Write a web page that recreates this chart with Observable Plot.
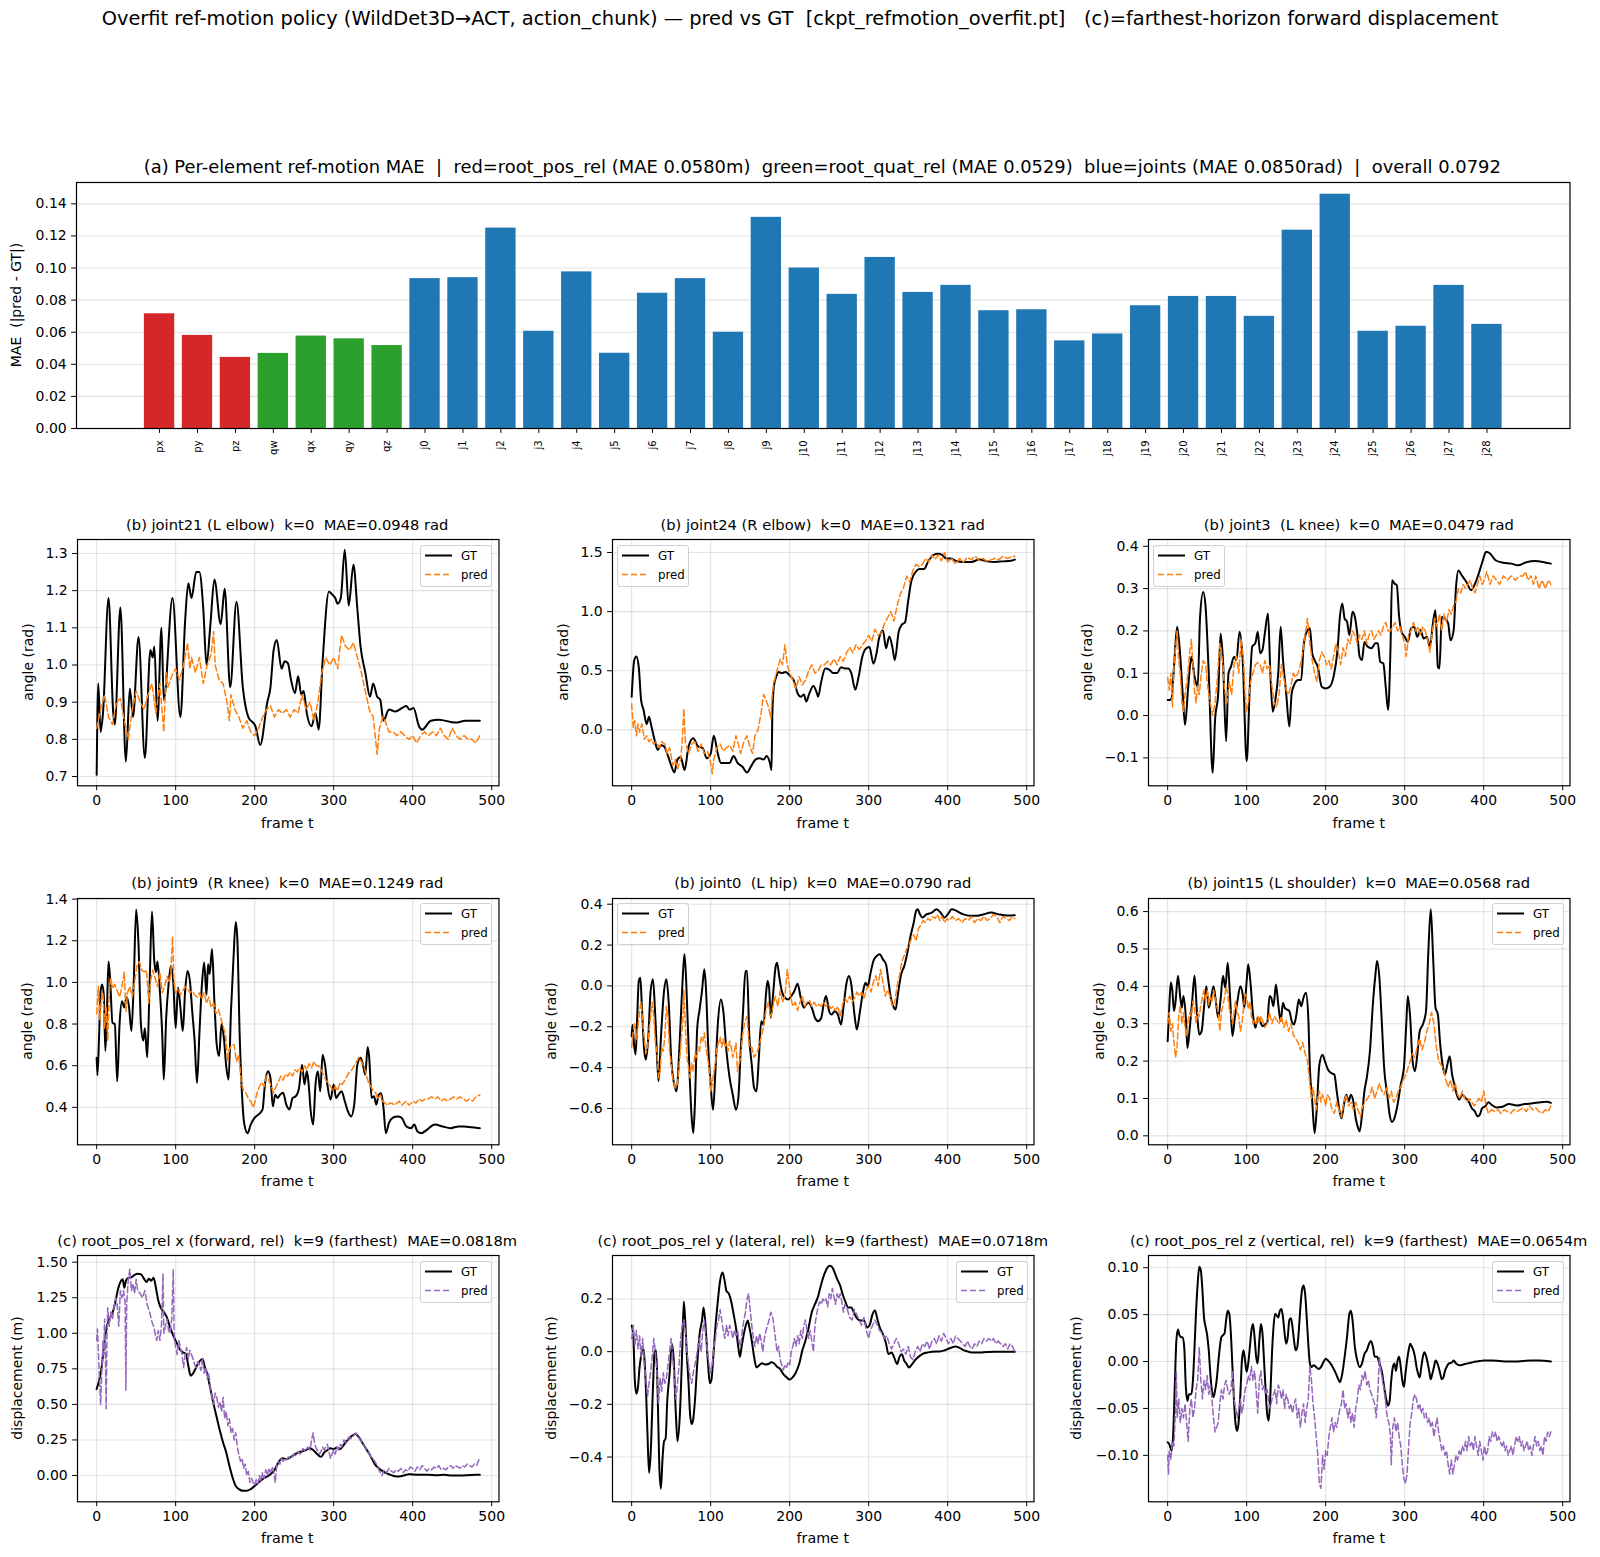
<!DOCTYPE html>
<html><head><meta charset="utf-8">
<script src="https://cdn.jsdelivr.net/npm/d3@7"></script>
<script src="https://cdn.jsdelivr.net/npm/@observablehq/plot@0.6"></script>
<style>
body{margin:0;background:#fff;}
#fig{position:relative;width:1600px;height:1557px;background:#fff;font-family:"DejaVu Sans",sans-serif;color:#000;overflow:hidden}
.t{position:absolute;white-space:pre;transform:translate(-50%,-50%);line-height:1}
.yl{position:absolute;white-space:pre;transform:translate(-50%,-50%) rotate(-90deg);line-height:1}
.lg{position:absolute;background:rgba(255,255,255,0.8);border:1px solid #d0d0d0;border-radius:3px;box-sizing:border-box}
</style></head><body><div id="fig"></div><script>
// ---------------- data ----------------
const suptitle = "Overfit ref-motion policy (WildDet3D\u2192ACT, action_chunk) \u2014 pred vs GT  [ckpt_refmotion_overfit.pt]   (c)=farthest-horizon forward displacement";
const barTitle = "(a) Per-element ref-motion MAE  |  red=root_pos_rel (MAE 0.0580m)  green=root_quat_rel (MAE 0.0529)  blue=joints (MAE 0.0850rad)  |  overall 0.0792";
const barLabels = ["px","py","pz","qw","qx","qy","qz","j0","j1","j2","j3","j4","j5","j6","j7","j8","j9","j10","j11","j12","j13","j14","j15","j16","j17","j18","j19","j20","j21","j22","j23","j24","j25","j26","j27","j28"];
const barValues = [0.0715,0.058,0.0443,0.0468,0.0576,0.0559,0.0517,0.0934,0.094,0.1249,0.0606,0.0976,0.0469,0.0843,0.0934,0.060,0.1316,0.100,0.0836,0.1066,0.0848,0.0892,0.0734,0.074,0.0546,0.0589,0.0765,0.0823,0.0823,0.0699,0.1236,0.146,0.0606,0.0637,0.0892,0.0649];
const barGroups = ["pos","pos","pos","quat","quat","quat","quat"].concat(Array(29).fill("joint"));
const barColors = {pos:"#d62728", quat:"#2ca02c", joint:"#1f77b4"};
const barYTicks = [0,0.02,0.04,0.06,0.08,0.10,0.12,0.14];
const frameTicks = [0,100,200,300,400,500];

const j21_gt = [0,.705,2,.95,5,.82,8,.87,15,1.18,21,.87,23,.84,30,1.155,37,.74,42,.937,46,.86,53,1.075,61,.75,68,1.04,71,1.02,73,1.05,77,.85,82,1.10,85,.906,96,1.18,106,.86,112,1.12,116,1.22,120,1.18,126,1.25,130,1.25,135,1.15,139,1.0,144,1.11,149,1.23,157,1.11,162,1.205,169,.94,177,1.17,185,.94,192,.86,201,.835,207,.785,216,.90,220,.94,224,1.04,228,1.067,234,.99,238,1.01,242,1.005,246,.96,251,.924,255,.97,259,.92,262,.93,266,.87,272,.835,277,.87,281,.826,286,1.01,294,1.197,298,1.19,302,1.18,305,1.165,309,1.18,314,1.31,319,1.16,325,1.27,330,1.15,334,1.05,340,.98,346,.915,350,.95,355,.915,359,.906,363,.85,370,.88,378,.875,387,.885,392,.89,396,.88,401,.884,408,.835,412,.826,423,.85,433,.853,454,.845,467,.85,485,.85];
const j21_pred = [0,.83,5,.88,10,.92,15,.86,20,.84,25,.90,30,.91,35,.85,40,.80,45,.88,50,.93,55,.90,60,.88,65,.92,70,.95,75,.87,80,.95,85,.82,88,.98,90,.94,95,.97,100,.99,105,.96,110,1.0,115,1.06,118,.99,120,1.02,125,.98,130,1.02,135,.95,140,1.0,145,1.03,148,1.09,150,1.0,155,.96,160,.95,165,.90,168,.85,170,.92,175,.88,180,.86,185,.83,190,.85,195,.82,200,.81,205,.83,210,.86,215,.88,220,.89,225,.86,230,.88,235,.87,240,.88,245,.86,250,.88,255,.87,260,.92,265,.88,270,.90,275,.85,280,.90,285,.98,290,1.02,295,1.0,300,1.02,305,.99,310,1.08,315,1.05,320,1.04,325,1.06,330,1.02,335,.98,340,.93,345,.88,350,.86,355,.76,358,.83,362,.86,365,.85,370,.82,375,.82,380,.81,385,.82,390,.81,395,.80,400,.81,405,.79,410,.81,415,.82,420,.81,425,.82,430,.81,435,.83,440,.81,445,.80,450,.83,455,.81,460,.80,465,.81,470,.80,475,.80,480,.79,485,.81];

const j24_gt = [0,.28,2,.51,3,.58,6,.62,9,.53,12,.25,15,.17,19,.05,22,.11,25,.03,29,-.085,33,-.17,37,-.13,41,-.14,46,-.22,50,-.30,54,-.36,58,-.25,62,-.23,67,-.34,72,-.14,78,-.07,84,-.14,90,-.155,95,-.24,100,-.2,104,-.05,109,-.2,113,-.28,118,-.28,124,-.28,129,-.22,134,-.28,140,-.31,146,-.36,151,-.31,157,-.25,162,-.24,167,-.25,171,-.22,175,-.28,177,-.34,178,.11,180,.37,183,.45,186,.49,190,.48,195,.49,200,.46,205,.42,210,.31,214,.28,218,.30,221,.24,225,.31,230,.37,234,.32,236,.28,240,.41,245,.52,250,.51,255,.48,260,.48,265,.53,270,.52,274,.52,278,.48,283,.34,287,.44,292,.62,297,.69,301,.70,306,.56,310,.65,313,.77,318,.84,322,.69,326,.79,330,.70,333,.59,338,.83,342,.89,346,.91,350,1.09,354,1.26,360,1.34,364,1.36,370,1.36,375,1.42,382,1.48,388,1.49,393,1.48,398,1.45,404,1.45,410,1.43,420,1.42,430,1.42,440,1.44,450,1.425,460,1.42,470,1.425,480,1.43,485,1.44];
const j24_pred = [0,.22,2,.02,4,.08,6,-.05,8,.05,10,-.02,13,.05,16,-.08,19,-.05,22,-.1,25,-.08,28,-.12,31,-.1,35,-.15,38,-.1,42,-.12,45,-.2,48,-.15,52,-.3,55,-.25,58,-.33,62,-.25,64,-.1,66,.18,68,-.1,72,-.2,76,-.12,80,-.1,84,-.18,88,-.12,92,-.2,96,-.18,100,-.28,102,-.37,104,-.25,108,-.15,112,-.12,116,-.18,120,-.15,124,-.13,128,-.18,132,-.05,135,-.12,138,-.2,142,-.1,146,-.05,150,-.15,153,-.2,156,-.05,160,0,164,.15,167,.3,170,.25,173,.2,176,.1,178,.3,180,.4,184,.5,188,.6,191,.55,194,.72,197,.55,200,.48,204,.42,208,.35,212,.45,216,.38,220,.42,224,.5,228,.55,232,.48,236,.5,240,.55,244,.55,248,.58,252,.55,256,.6,260,.55,264,.62,268,.58,272,.65,276,.7,280,.65,284,.72,288,.68,292,.72,296,.75,300,.8,304,.75,308,.85,312,.8,316,.82,320,.9,324,.95,328,1.0,332,.92,336,1.05,340,1.15,344,1.2,348,1.3,352,1.25,356,1.35,360,1.4,364,1.38,368,1.4,372,1.45,376,1.42,380,1.48,384,1.44,388,1.48,392,1.43,396,1.5,400,1.42,405,1.45,410,1.40,415,1.45,420,1.42,425,1.46,430,1.44,435,1.47,440,1.43,445,1.45,450,1.42,455,1.44,460,1.45,465,1.44,470,1.47,475,1.45,480,1.46,485,1.47];

const j3_gt = [0,.037,3,.037,5,.041,8,.115,12,.21,15,.163,19,.053,22,-.022,26,.068,30,.139,34,.092,38,.068,41,.233,45,.292,48,.257,52,.1,57,-.136,60,-.01,64,.053,67,.194,70,.131,74,-.061,77,.1,80,.115,84,.139,87,.131,91,.198,95,.131,100,-.108,104,.068,107,.163,111,.171,114,.198,117,.147,120,.155,123,.194,127,.241,130,.1,133,.009,136,.033,140,.1,143,.21,146,.131,150,.053,154,-.026,157,.053,161,.076,165,.084,169,.084,172,.163,176,.198,180,.206,183,.147,186,.131,190,.115,195,.068,200,.064,205,.068,210,.092,215,.155,218,.233,221,.265,224,.229,227,.222,230,.19,234,.245,237,.233,240,.194,243,.139,246,.131,249,.174,253,.163,258,.159,263,.171,266,.171,269,.127,273,.123,276,.068,279,.013,282,.155,284,.32,287,.312,290,.308,293,.233,296,.198,300,.186,304,.174,308,.206,312,.21,316,.186,320,.202,324,.182,328,.186,332,.163,336,.222,339,.249,342,.115,344,.111,347,.233,351,.229,355,.218,358,.178,362,.202,365,.304,368,.343,372,.332,378,.316,384,.296,390,.316,395,.343,399,.367,403,.387,408,.383,415,.367,425,.361,435,.359,443,.355,455,.363,465,.365,475,.363,485,.359];
const j3_pred = [0,.09,2,.06,4,.1,6,.02,8,.12,10,.16,12,.2,14,.13,16,.1,18,.03,20,.01,22,.05,25,.09,28,.15,30,.18,32,.12,34,.06,36,.03,38,.07,40,.05,42,.09,45,.13,48,.12,50,.08,52,.05,55,.02,57,0,60,.03,63,.09,66,.17,68,.15,70,.12,72,.06,75,.03,78,.08,81,.05,84,.12,87,.14,90,.1,93,.18,96,.13,98,.05,100,.01,102,.03,105,.08,108,.1,111,.12,114,.125,117,.12,120,.1,123,.13,126,.11,129,.12,132,.07,135,.03,138,.02,141,.05,144,.12,147,.09,150,.06,153,.05,156,.07,159,.1,162,.09,165,.1,168,.12,171,.15,174,.19,177,.23,180,.17,183,.13,186,.1,189,.08,192,.13,195,.15,198,.14,201,.12,204,.13,207,.11,210,.14,213,.17,216,.15,219,.12,222,.16,225,.14,228,.18,231,.17,234,.2,237,.19,240,.17,243,.19,246,.18,249,.2,252,.17,255,.19,258,.2,261,.18,264,.19,267,.2,270,.19,273,.21,276,.22,279,.2,282,.2,285,.21,288,.22,291,.2,294,.21,297,.19,300,.17,302,.14,305,.19,308,.2,311,.22,314,.2,317,.21,320,.19,323,.21,326,.2,329,.18,332,.15,335,.2,338,.23,341,.21,344,.24,347,.2,350,.24,353,.22,356,.25,359,.24,362,.26,365,.27,368,.3,371,.29,374,.31,377,.3,380,.31,383,.32,386,.3,389,.29,392,.31,395,.33,398,.31,401,.32,404,.34,408,.31,412,.33,416,.32,420,.31,425,.33,430,.32,435,.33,440,.32,445,.33,450,.33,453,.34,456,.32,460,.33,463,.31,466,.33,470,.30,474,.32,478,.30,482,.32,485,.31];

const j9_gt = [0,.638,1,.554,3,.734,5,.959,7,.99,9,.94,11,.67,13,.86,15,1.10,17,1.02,20,.806,23,.80,26,.525,29,.80,32,.91,35,.88,38,.93,41,.88,44,.766,47,1.01,50,1.35,53,1.18,56,.80,59,.72,61,.78,64,.64,67,.99,70,1.34,73,1.10,75,1.05,77,1.10,80,.96,83,.75,85,.533,88,.83,91,.99,94,1.08,97,1.0,100,.78,103,.975,106,.88,109,.766,112,.96,115,1.055,118,1.007,121,.86,124,.72,127,.517,130,.75,133,.975,136,1.095,139,.94,141,1.087,143,1.04,146,1.16,149,.91,152,.70,155,.646,158,.80,161,.734,164,.597,167,.533,170,.862,173,1.10,176,1.29,178,1.215,181,.75,184,.46,187,.317,191,.276,195,.317,200,.35,205,.366,210,.39,213,.51,217,.573,220,.54,223,.405,226,.46,229,.445,232,.46,236,.47,240,.413,244,.39,248,.445,252,.453,256,.49,260,.605,263,.51,266,.573,268,.525,271,.38,274,.317,277,.51,280,.573,283,.477,286,.653,289,.605,292,.51,296,.437,300,.51,303,.445,306,.46,310,.477,314,.43,318,.38,322,.356,326,.413,330,.605,334,.638,337,.605,340,.557,343,.69,345,.638,348,.445,351,.453,354,.413,357,.46,360,.468,363,.40,366,.276,370,.325,375,.35,381,.356,386,.35,392,.308,398,.30,402,.317,406,.284,411,.276,418,.292,428,.317,438,.308,448,.30,458,.308,465,.308,475,.304,485,.30];
const j9_pred = [0,.85,2,.98,4,.82,6,.92,8,.95,10,.78,12,.88,14,.72,16,.95,18,1.02,20,.97,23,.99,26,.96,29,.93,32,.98,35,1.05,37,.86,39,.95,42,.98,45,.93,48,1.0,51,1.08,54,1.1,57,1.06,60,1.05,63,1.06,66,.9,68,1.0,71,1.06,74,1.02,77,.98,80,1.05,83,.95,86,.98,89,1.03,92,1.0,94,1.05,96,1.22,98,1.0,100,.95,103,.97,106,.94,109,.96,112,.98,115,.97,118,.95,121,.96,124,.94,127,.93,130,.95,133,.92,136,.95,139,.9,142,.93,145,.88,148,.9,151,.85,154,.87,157,.83,160,.79,163,.75,166,.62,168,.68,171,.7,174,.7,177,.62,180,.65,183,.52,186,.48,189,.47,192,.44,195,.43,198,.40,200,.42,203,.47,206,.5,209,.52,212,.5,215,.55,218,.53,221,.5,224,.47,227,.5,230,.52,233,.55,236,.53,239,.56,242,.55,245,.57,248,.55,251,.58,254,.57,257,.59,260,.57,263,.6,266,.58,269,.61,272,.59,275,.62,278,.6,281,.6,284,.58,287,.56,290,.53,293,.52,296,.5,299,.48,302,.5,305,.48,308,.52,311,.51,314,.53,317,.55,320,.57,323,.58,326,.6,329,.62,332,.64,335,.62,338,.6,341,.56,344,.52,347,.5,350,.48,353,.47,356,.44,359,.46,362,.43,365,.42,368,.41,371,.42,374,.42,377,.41,380,.42,383,.43,386,.41,389,.42,392,.43,395,.41,398,.42,401,.43,404,.42,408,.44,412,.43,416,.44,420,.44,424,.45,428,.44,432,.45,436,.43,440,.44,444,.43,448,.44,452,.45,456,.44,460,.45,464,.44,468,.43,472,.44,476,.43,480,.45,485,.46];

const j0_gt = [0,-.246,1,-.19,3,-.287,5,-.336,7,-.156,9,.024,11,.04,13,-.107,16,-.32,18,-.361,21,-.255,24,-.025,27,.032,30,-.156,34,-.467,37,-.255,41,-.025,44,.032,47,-.09,50,-.353,54,-.484,57,-.516,60,-.336,63,-.09,66,.122,67,.155,70,-.075,73,-.402,76,-.647,78,-.72,80,-.582,83,-.206,86,-.116,89,-.025,92,.081,94,-.009,97,-.304,100,-.484,103,-.607,106,-.418,109,-.19,113,-.066,116,-.124,120,-.32,124,-.45,128,-.533,132,-.607,135,-.55,138,-.32,141,-.124,144,.073,146,.073,149,-.255,152,-.386,155,-.5,158,-.516,161,-.353,164,-.173,167,-.19,170,-.042,172,.024,174,-.01,176,-.156,179,-.042,182,.089,184,.113,187,.04,190,-.025,194,-.058,198,-.066,202,-.05,206,-.025,210,.011,214,-.058,218,-.107,221,-.09,224,-.082,228,-.107,232,-.156,236,-.173,240,-.156,243,-.09,246,-.05,250,-.124,253,-.14,257,-.124,261,-.14,265,-.19,268,-.107,272,.015,275,.048,278,.007,282,-.14,285,-.214,289,-.124,293,-.025,296,.015,299,-.001,302,.056,306,.122,310,.146,314,.155,318,.13,322,.105,325,.024,328,-.058,332,-.107,334,-.116,337,-.042,341,.056,345,.097,349,.163,353,.244,357,.31,360,.367,362,.375,365,.35,368,.335,373,.35,380,.359,386,.375,391,.359,396,.335,400,.35,405,.375,410,.37,415,.359,420,.35,428,.343,435,.343,445,.35,455,.359,465,.35,475,.345,485,.346];
const j0_pred = [0,-.3,2,-.22,4,-.18,6,-.26,8,-.2,10,-.12,12,-.08,14,-.18,16,-.26,18,-.33,20,-.3,22,-.22,24,-.15,26,-.08,28,-.15,30,-.28,32,-.32,34,-.45,36,-.42,38,-.3,40,-.32,42,-.25,44,-.1,46,-.15,48,-.32,50,-.38,52,-.45,55,-.5,58,-.48,61,-.35,63,-.25,65,-.15,66,-.02,68,-.2,70,-.35,72,-.4,74,-.45,76,-.38,78,-.42,80,-.33,82,-.35,84,-.3,86,-.32,88,-.25,90,-.27,92,-.23,94,-.3,96,-.35,98,-.4,100,-.52,102,-.48,104,-.42,106,-.38,108,-.3,110,-.28,112,-.25,114,-.3,116,-.26,118,-.3,120,-.28,122,-.32,124,-.27,126,-.3,128,-.35,130,-.32,132,-.28,134,-.42,136,-.38,138,-.35,140,-.25,143,-.18,146,-.15,149,-.3,152,-.3,155,-.35,158,-.33,161,-.3,164,-.25,167,-.2,170,-.12,173,-.08,176,-.15,179,-.1,182,-.05,185,-.1,188,-.02,191,-.08,194,-.05,197,.08,199,.02,201,-.05,204,-.1,207,-.08,210,-.12,213,-.08,216,-.05,219,-.1,222,-.08,225,-.07,228,-.1,231,-.08,234,-.1,237,-.09,240,-.1,243,-.08,246,-.1,249,-.09,252,-.11,255,-.1,258,-.12,261,-.1,264,-.15,267,-.09,270,-.06,273,-.08,276,-.05,279,-.08,282,-.06,285,-.03,288,-.05,291,-.03,294,-.06,297,-.02,300,0,303,-.03,306,.02,309,.05,312,0,315,.08,318,.02,321,-.05,324,-.02,327,-.05,330,-.1,333,-.08,336,0,339,.05,342,.12,345,.15,348,.18,351,.2,354,.23,357,.25,360,.22,363,.28,366,.3,369,.32,372,.31,375,.33,378,.32,381,.34,384,.33,387,.35,390,.32,393,.34,396,.31,399,.33,402,.32,406,.34,410,.32,414,.33,418,.31,422,.33,426,.32,430,.34,434,.31,438,.33,442,.32,446,.34,450,.32,454,.33,458,.35,462,.34,466,.31,470,.34,474,.33,478,.32,482,.34,485,.33];

const j15_gt = [0,.253,2,.343,4,.41,6,.387,8,.334,10,.36,13,.428,16,.37,18,.343,20,.374,23,.316,25,.235,28,.289,31,.36,34,.428,37,.334,40,.271,43,.28,46,.343,49,.40,52,.343,55,.37,58,.40,61,.36,64,.316,67,.365,70,.428,73,.396,76,.463,79,.37,82,.267,85,.316,88,.356,92,.40,95,.378,97,.343,100,.414,102,.459,105,.405,108,.325,111,.289,114,.316,117,.307,120,.293,123,.298,126,.302,129,.374,131,.37,134,.347,137,.405,140,.352,143,.307,146,.356,148,.343,151,.338,154,.334,157,.307,160,.298,163,.325,166,.365,169,.347,172,.37,175,.383,178,.316,180,.182,183,.092,186,.007,189,.083,192,.19,196,.217,199,.2,203,.177,207,.168,211,.164,214,.119,217,.074,220,.047,223,.083,226,.11,229,.092,232,.11,235,.092,238,.047,241,.021,243,.012,246,.056,249,.119,252,.155,256,.226,260,.36,263,.432,265,.468,268,.423,271,.307,274,.182,278,.11,281,.056,284,.037,287,.047,291,.083,295,.137,299,.182,302,.298,304,.374,307,.316,310,.2,313,.173,316,.217,319,.28,323,.298,327,.334,330,.495,333,.606,336,.477,339,.343,342,.325,345,.244,348,.19,351,.164,354,.19,357,.213,360,.164,363,.137,366,.11,369,.097,373,.11,377,.101,381,.092,385,.074,389,.065,392,.052,395,.056,398,.074,402,.079,406,.09,410,.083,416,.076,424,.078,432,.085,442,.081,452,.085,462,.087,472,.09,480,.091,485,.088];
const j15_pred = [0,.3,2,.33,4,.28,6,.3,8,.25,10,.21,12,.24,14,.32,16,.35,18,.3,20,.33,22,.29,24,.27,26,.31,28,.33,30,.32,32,.36,34,.34,36,.3,38,.33,40,.32,42,.35,44,.37,46,.39,48,.36,50,.39,52,.35,54,.37,56,.36,58,.39,60,.37,62,.35,64,.33,66,.28,68,.33,70,.35,72,.37,74,.4,76,.38,78,.34,80,.33,82,.3,84,.33,86,.36,88,.33,90,.32,92,.28,94,.3,96,.34,98,.38,100,.37,102,.34,104,.36,106,.32,108,.3,110,.31,112,.3,114,.32,116,.3,118,.32,120,.31,123,.29,126,.3,129,.33,132,.3,135,.32,138,.31,141,.3,144,.32,147,.29,150,.31,153,.28,156,.3,159,.27,162,.26,165,.25,168,.23,171,.25,174,.22,177,.2,180,.14,182,.1,184,.13,186,.1,188,.07,190,.1,192,.12,194,.09,196,.11,198,.1,200,.08,202,.11,205,.1,208,.07,211,.06,214,.09,217,.07,220,.05,223,.09,226,.11,229,.08,232,.09,235,.07,238,.09,241,.07,244,.05,247,.08,250,.09,253,.1,256,.11,259,.13,262,.1,265,.12,268,.14,271,.12,274,.11,277,.13,280,.1,283,.12,286,.09,289,.1,292,.12,295,.13,298,.15,301,.16,304,.18,307,.2,310,.22,313,.21,316,.24,319,.26,322,.23,325,.25,328,.28,331,.3,334,.33,337,.3,340,.24,343,.2,346,.19,349,.18,352,.15,355,.13,358,.15,361,.12,364,.14,367,.11,370,.1,373,.12,376,.1,379,.09,382,.1,385,.09,388,.08,391,.09,394,.1,397,.09,400,.12,403,.08,406,.06,410,.07,414,.065,418,.07,422,.06,426,.07,430,.065,434,.06,438,.07,442,.065,446,.07,450,.075,454,.065,458,.08,462,.07,466,.075,470,.065,474,.06,478,.07,482,.065,485,.08];

const rx_gt = [0,.608,3,.667,6,.749,9,.90,12,1.02,15,1.09,18,1.12,21,1.16,24,1.23,27,1.31,30,1.36,33,1.38,35,1.32,37,1.37,40,1.39,44,1.394,48,1.41,52,1.418,56,1.415,60,1.383,63,1.36,66,1.383,69,1.37,72,1.39,75,1.32,78,1.23,81,1.18,85,1.15,89,1.11,93,1.04,97,.984,101,.937,105,.89,109,.866,113,.854,116,.772,119,.702,122,.718,125,.749,128,.784,131,.808,134,.82,137,.76,140,.714,144,.608,148,.502,152,.408,156,.315,160,.232,164,.162,168,.068,172,-.014,176,-.073,180,-.096,185,-.108,190,-.108,195,-.096,200,-.073,205,-.049,210,-.026,215,-.009,220,.009,225,.038,230,.092,235,.122,240,.115,245,.127,250,.146,255,.162,260,.169,265,.178,270,.192,275,.174,280,.146,284,.131,288,.162,292,.178,296,.192,300,.185,304,.197,308,.185,312,.209,316,.239,320,.263,325,.286,328,.291,332,.268,336,.232,340,.197,344,.162,348,.122,352,.08,356,.056,360,.038,365,.021,370,.009,375,-.002,380,-.007,385,-.005,390,.002,395,.009,400,.007,410,.005,420,.005,430,.002,440,.005,450,0,460,0,470,.002,480,.005,485,.005];
const rx_pred = [0,.95,1,1.03,2,.9,3,.75,4,.62,5,.5,6,.65,7,.8,8,.95,9,.85,10,1.1,11,.9,12,.47,13,.95,14,1.18,16,1.05,18,1.15,20,1.1,22,1.18,24,1.25,26,1.2,28,1.05,30,1.3,32,1.25,34,1.3,36,1.22,37,.6,38,1.2,40,1.38,42,1.45,44,1.3,46,1.35,48,1.28,50,1.38,52,1.3,55,1.28,58,1.25,61,1.3,64,1.2,67,1.15,70,1.08,72,1.05,74,1.0,76,.95,78,1.02,80,.95,82,1.05,84,1.42,85,1.0,87,1.05,89,1.1,91,1.02,93,1.0,95,1.1,97,1.45,98,1.0,100,.9,102,.85,104,.95,106,.9,108,.85,110,.76,112,.85,114,.9,116,.82,118,.88,120,.85,122,.82,124,.78,126,.76,128,.8,130,.78,132,.74,134,.82,136,.72,138,.76,140,.68,142,.72,144,.6,146,.55,148,.5,150,.58,152,.55,154,.48,156,.52,158,.45,160,.55,162,.4,164,.45,166,.35,168,.4,170,.3,172,.33,174,.25,176,.3,178,.2,180,.15,182,.1,184,.12,186,.05,188,.08,190,0,192,.03,194,-.05,196,-.02,198,-.05,200,-.07,202,-.03,204,-.06,206,0,208,-.04,210,.02,212,-.02,214,.04,216,0,218,.05,220,.02,222,.06,224,.03,226,-.05,228,.08,230,.1,232,.08,234,.12,236,.1,238,.12,240,.11,243,.13,246,.12,249,.15,252,.14,255,.17,258,.15,261,.19,264,.17,267,.2,270,.18,272,.25,274,.3,276,.22,278,.19,280,.17,282,.15,284,.17,286,.2,288,.18,290,.2,292,.22,294,.17,296,.12,298,.15,300,.18,302,.15,304,.2,306,.18,308,.22,310,.2,313,.25,316,.23,319,.27,322,.26,325,.28,328,.3,331,.27,334,.25,337,.22,340,.2,343,.17,346,.14,349,.12,352,.1,355,.07,358,.03,361,0,364,.04,367,.02,370,.05,373,.03,376,.02,379,.04,382,.03,385,.05,388,.02,391,.04,394,.03,397,.06,400,.05,403,.03,406,.06,409,.04,412,.07,415,.05,418,.03,421,.05,424,.04,427,.06,430,.05,433,.07,436,.04,439,.05,442,.04,445,.06,448,.07,451,.05,454,.07,457,.06,460,.05,463,.07,466,.06,469,.08,472,.07,475,.06,478,.08,481,.07,483,.1,485,.12];

const ry_gt = [0,.099,2,.067,4,-.11,6,-.16,8,-.135,10,-.06,12,-.015,14,.016,16,-.02,18,-.135,20,-.31,22,-.46,24,-.39,27,-.135,29,-.003,31,.004,33,-.17,35,-.44,37,-.52,39,-.41,41,-.34,43,-.33,45,-.19,48,-.085,51,.03,53,-.02,56,-.24,58,-.34,61,-.24,64,.004,66,.19,68,.105,70,-.02,72,-.12,74,-.24,76,-.275,78,-.255,80,-.19,83,-.047,86,.067,89,.118,91,.168,93,.118,95,.03,97,-.06,99,-.12,101,-.107,103,-.034,106,.092,109,.19,112,.27,115,.30,117,.28,120,.23,123,.22,126,.19,129,.143,132,.092,135,.016,137,-.02,139,.016,142,.067,145,.105,147,.118,149,.092,152,.042,155,-.02,158,-.06,161,-.053,165,-.044,169,-.049,173,-.047,177,-.04,180,-.044,184,-.057,188,-.066,192,-.085,196,-.097,200,-.106,204,-.097,208,-.078,212,-.047,216,.004,220,.042,224,.092,228,.15,232,.18,236,.21,240,.257,244,.295,248,.32,251,.326,254,.32,257,.30,260,.276,264,.25,267,.219,270,.194,274,.168,278,.168,282,.143,286,.124,290,.118,294,.118,298,.092,301,.099,305,.143,308,.156,311,.124,314,.092,318,.067,322,.03,325,-.009,329,-.003,332,-.02,336,-.047,339,-.02,342,-.01,345,-.034,348,-.047,351,-.06,355,-.047,360,-.028,365,-.015,370,-.006,375,-.003,380,0,390,.001,395,.004,400,.01,405,.016,410,.02,415,.014,420,.006,425,.001,430,-.003,440,-.003,450,-.001,460,0,470,0,485,0];
const ry_pred = [0,.05,2,.1,4,.02,6,.08,8,.01,10,.06,12,-.02,14,.05,16,-.05,18,-.1,20,-.17,22,-.12,24,-.08,26,-.02,28,.05,30,0,32,-.08,34,-.2,36,-.1,38,-.15,40,-.08,42,-.12,44,-.1,46,-.05,48,0,50,.05,52,-.02,54,-.1,56,-.18,58,-.12,60,-.05,62,.05,64,.1,66,.12,68,.08,70,0,72,-.05,74,-.1,76,-.12,78,-.08,80,-.05,82,-.02,84,.02,86,.05,88,0,90,.08,92,.12,94,.05,96,0,98,-.05,100,-.08,102,-.05,104,.02,106,.05,108,.1,110,.12,112,.16,114,.12,116,.08,118,.05,120,.1,122,.06,124,.1,126,.08,128,.05,130,.08,132,.06,134,.08,136,.04,138,.02,140,.08,142,.12,144,.15,146,.2,148,.22,150,.16,152,.1,154,.05,156,.02,158,.06,160,.03,162,.07,164,.04,166,0,168,.05,170,.08,172,.1,174,.12,176,.15,178,.14,180,.1,182,.05,184,0,186,.02,188,-.03,190,-.05,192,-.07,194,-.05,196,-.06,198,-.04,200,-.05,202,0,204,.02,206,.05,208,.02,210,.06,212,.03,214,.08,216,.05,218,.1,220,.12,222,.08,224,.05,226,.08,228,.04,230,0,232,.1,234,.14,236,.17,238,.19,240,.18,242,.2,244,.19,246,.2,248,.17,250,.22,252,.2,254,.24,256,.21,258,.18,260,.22,262,.2,264,.22,266,.19,268,.15,270,.18,273,.16,276,.13,279,.12,282,.16,285,.14,288,.12,291,.1,294,.13,297,.08,300,.05,302,.08,305,.1,308,.12,311,.1,314,.08,317,.07,320,.05,323,.06,326,.03,329,.01,332,.03,335,.05,338,.03,341,0,344,.01,347,-.01,350,.02,353,-.02,356,-.03,359,0,362,.02,365,0,368,.03,371,.02,374,.04,377,.01,380,.04,383,.05,386,.03,389,.06,392,.04,395,.07,398,.05,401,.03,404,.05,407,.03,410,.06,413,.05,416,.04,419,.03,422,.02,425,.04,428,.02,431,.01,434,.03,437,.02,440,.04,443,.03,446,.05,449,.04,452,.05,455,.04,458,.05,461,.03,464,.04,467,.03,470,.02,473,.03,476,.01,479,.03,482,.02,485,0];

const rz_gt = [0,-.086,2,-.088,4,-.093,5,-.095,7,-.077,9,-.027,11,.022,13,.034,15,.028,17,.026,19,.026,21,.015,23,-.027,25,-.042,27,-.035,30,-.035,32,-.02,34,.015,36,.054,38,.083,40,.101,42,.097,44,.076,46,.047,48,.037,50,.028,52,.012,54,-.013,56,-.031,58,-.038,60,-.031,62,-.02,64,-.002,66,.015,68,.026,70,.028,72,.03,74,.044,76,.054,78,.051,80,.03,82,-.006,84,-.042,86,-.067,88,-.074,90,-.063,92,-.035,94,.001,96,.012,98,.001,100,-.011,102,-.002,104,.015,106,.033,108,.04,110,.026,112,.005,114,-.002,116,.022,118,.04,120,.03,122,.001,124,-.031,126,-.056,128,-.063,130,-.035,132,.008,134,.037,136,.051,138,.049,140,.047,142,.054,144,.056,146,.047,148,.03,150,.019,152,.026,154,.044,156,.046,158,.037,160,.022,162,.012,164,.015,166,.033,168,.058,170,.076,172,.081,174,.072,176,.047,178,.019,180,-.002,182,-.006,185,-.004,188,-.006,191,-.008,194,-.006,197,-.001,200,.003,203,.001,206,-.002,209,-.006,212,-.011,215,-.017,218,-.022,221,-.013,224,.005,227,.026,230,.051,232,.054,234,.044,237,.015,240,.001,243,-.006,246,-.002,249,.008,252,.012,255,.019,257,.022,260,.015,262,.005,265,.005,268,-.002,271,-.01,274,-.027,277,-.042,279,-.047,281,-.042,283,-.02,285,-.006,287,-.002,289,-.01,291,.001,293,.005,295,-.006,297,-.02,299,-.027,301,-.013,303,.001,305,.012,307,.019,309,.016,311,.012,313,.005,315,-.006,317,-.013,319,-.017,321,-.006,323,.005,325,.01,327,.006,329,-.001,331,-.01,333,-.019,335,-.013,337,-.006,339,.001,341,-.001,343,-.006,345,-.013,347,-.019,349,-.017,351,-.01,353,-.006,356,-.002,360,-.001,362,.001,365,-.002,370,-.004,375,-.003,380,-.002,385,-.001,390,0,395,.0005,400,.001,410,.001,420,.0005,430,0,440,0,450,.0005,460,.001,470,.001,485,0];
const rz_pred = [0,-.1,1,-.12,2,-.095,4,-.105,6,-.085,8,-.09,10,-.05,11,-.01,12,-.06,14,-.04,16,-.065,18,-.05,20,-.06,22,-.045,24,-.065,26,-.085,28,-.05,30,-.04,32,-.06,34,-.05,36,-.03,38,-.02,40,.015,42,-.02,44,-.04,46,-.02,48,-.03,50,-.015,52,-.035,54,-.025,56,-.04,58,-.06,60,-.075,62,-.07,64,-.065,66,-.045,68,-.03,70,-.04,72,-.025,74,-.02,76,-.03,78,-.035,80,-.03,82,-.01,84,-.04,86,-.05,88,-.06,90,-.05,92,-.04,94,-.055,96,-.045,98,-.03,100,-.025,102,-.015,104,-.02,106,-.005,108,-.02,110,-.01,112,-.03,114,-.055,116,-.02,118,-.01,120,-.03,122,-.025,124,-.035,126,-.03,128,-.045,130,-.05,132,-.04,134,-.035,136,-.03,138,-.045,140,-.025,142,-.03,144,-.04,146,-.03,148,-.05,150,-.035,152,-.04,154,-.05,156,-.045,158,-.055,160,-.045,162,-.04,164,-.06,166,-.05,168,-.07,170,-.055,172,-.045,174,-.065,176,-.05,178,-.04,180,-.005,182,-.02,184,-.045,186,-.06,188,-.08,190,-.1,192,-.13,194,-.135,196,-.1,198,-.115,200,-.095,202,-.1,204,-.08,206,-.07,208,-.06,210,-.075,212,-.065,214,-.07,216,-.06,218,-.05,220,-.045,222,-.03,224,-.05,226,-.045,228,-.06,230,-.05,232,-.065,234,-.055,236,-.07,238,-.05,240,-.04,242,-.025,244,-.03,246,-.015,248,-.02,250,-.01,252,-.025,254,-.02,256,-.03,258,-.035,260,-.04,262,-.045,264,-.06,266,-.035,268,.005,270,-.01,272,-.02,274,-.03,276,-.045,278,-.06,280,-.065,282,-.08,283,-.11,285,-.07,287,-.06,289,-.075,291,-.065,293,-.08,295,-.09,297,-.11,299,-.125,301,-.13,303,-.12,305,-.09,307,-.065,309,-.055,311,-.04,313,-.035,315,-.04,317,-.05,319,-.045,321,-.055,323,-.05,325,-.06,327,-.055,329,-.065,331,-.06,333,-.07,335,-.065,337,-.08,339,-.07,341,-.06,343,-.075,345,-.085,347,-.095,349,-.09,351,-.1,353,-.095,355,-.11,357,-.12,359,-.105,361,-.12,363,-.11,365,-.1,367,-.105,369,-.095,371,-.1,373,-.09,375,-.095,377,-.085,379,-.095,381,-.08,383,-.09,385,-.085,387,-.095,389,-.08,391,-.09,393,-.1,395,-.085,397,-.095,399,-.105,401,-.09,403,-.1,405,-.095,407,-.08,409,-.085,411,-.075,413,-.08,415,-.075,417,-.085,419,-.08,421,-.085,423,-.09,425,-.085,427,-.095,429,-.09,431,-.1,433,-.095,435,-.09,437,-.1,439,-.09,441,-.08,443,-.085,445,-.08,447,-.09,449,-.085,451,-.095,453,-.09,455,-.085,457,-.095,459,-.09,461,-.1,463,-.09,465,-.08,467,-.09,469,-.085,471,-.095,473,-.09,475,-.1,477,-.08,479,-.085,481,-.075,483,-.08,485,-.075];

// ---------------- layout ----------------
const FONT = '"DejaVu Sans", sans-serif';
const ORANGE = "#ff7f0e", PURPLE = "#9467bd";
const GRID = {stroke:"#b0b0b0", strokeOpacity:0.35, strokeWidth:1.1};
const TICK_FS = "14px";
const fig = document.getElementById("fig");
const rows = a => { const r = []; for (let i = 0; i < a.length; i += 2) r.push({t:a[i], v:a[i+1]}); return r; };
function addText(txt, x, y, size, cls) {
  const d = document.createElement("div"); d.className = cls || "t"; d.textContent = txt;
  d.style.left = x + "px"; d.style.top = y + "px"; d.style.fontSize = size + "px"; fig.appendChild(d);
}
function place(svg, left, top) {
  svg.style.position = "absolute"; svg.style.left = left + "px"; svg.style.top = top + "px";
  svg.style.overflow = "visible"; fig.appendChild(svg);
}

addText(suptitle, 800, 19, 19.4);

// ---- bar chart (a) ----
{
  const ax = {left:75.5, top:182.3, w:1493.5, h:246};
  const ml = 70, mr = 10, mt = 10, mb = 50;
  const data = barLabels.map((k, i) => ({i, k, v: barValues[i], c: barColors[barGroups[i]]}));
  const svg = Plot.plot({
    width: ax.w + ml + mr, height: ax.h + mt + mb,
    marginLeft: ml, marginRight: mr, marginTop: mt, marginBottom: mb,
    style: {fontFamily: FONT, fontSize: TICK_FS, background: "transparent", color: "black"},
    x: {type: "linear", domain: [-2.19, 37.19]},
    y: {domain: [0, 0.1533]},
    color: {type: "identity"},
    marks: [
      Plot.gridY({ticks: barYTicks, ...GRID}),
      Plot.rect(data, {x1: d => d.i - 0.4, x2: d => d.i + 0.4, y1: d => 0, y2: "v", fill: "c"}),
      Plot.frame({stroke: "black", strokeWidth: 1.2}),
      Plot.axisX({ticks: data.map(d => d.i), tickFormat: i => barLabels[i], tickRotate: -90, fontSize: 10, tickSize: 4.9, tickPadding: 7, label: null}),
      Plot.axisY({ticks: barYTicks, tickFormat: d3.format(".2f"), tickSize: 4.9, tickPadding: 4.9, label: null})
    ]
  });
  place(svg, ax.left - ml, ax.top - mt);
  addText(barTitle, ax.left + ax.w / 2, 166.7, 17.9);
  addText("MAE  (|pred - GT|)", 16, ax.top + ax.h / 2, 14, "yl");
}

// ---- line panels (b), (c) ----
const colLeft = [76.5, 612, 1148], colW = 421.5;
const rowTop = [539.3, 897.7, 1255], rowH = 246.3;
const panels = [
  {title:"(b) joint21 (L elbow)  k=0  MAE=0.0948 rad", gt:j21_gt, pred:j21_pred, color:ORANGE, ydom:[0.675,1.3376], yticks:[0.7,0.8,0.9,1.0,1.1,1.2,1.3], fmt:".1f", ylabel:"angle (rad)", r:0, c:0, leg:"right", ylx:28},
  {title:"(b) joint24 (R elbow)  k=0  MAE=0.1321 rad", gt:j24_gt, pred:j24_pred, color:ORANGE, ydom:[-0.473,1.61], yticks:[0,0.5,1.0,1.5], fmt:".1f", ylabel:"angle (rad)", r:0, c:1, leg:"left", ylx:562.7},
  {title:"(b) joint3  (L knee)  k=0  MAE=0.0479 rad", gt:j3_gt, pred:j3_pred, color:ORANGE, ydom:[-0.166,0.416], yticks:[-0.1,0,0.1,0.2,0.3,0.4], fmt:".1f", ylabel:"angle (rad)", r:0, c:2, leg:"left", ylx:1086.7},
  {title:"(b) joint9  (R knee)  k=0  MAE=0.1249 rad", gt:j9_gt, pred:j9_pred, color:ORANGE, ydom:[0.22,1.403], yticks:[0.4,0.6,0.8,1.0,1.2,1.4], fmt:".1f", ylabel:"angle (rad)", r:1, c:0, leg:"right", ylx:26.7},
  {title:"(b) joint0  (L hip)  k=0  MAE=0.0790 rad", gt:j0_gt, pred:j0_pred, color:ORANGE, ydom:[-0.778,0.428], yticks:[-0.6,-0.4,-0.2,0,0.2,0.4], fmt:".1f", ylabel:"angle (rad)", r:1, c:1, leg:"left", ylx:550.7},
  {title:"(b) joint15 (L shoulder)  k=0  MAE=0.0568 rad", gt:j15_gt, pred:j15_pred, color:ORANGE, ydom:[-0.024,0.635], yticks:[0,0.1,0.2,0.3,0.4,0.5,0.6], fmt:".1f", ylabel:"angle (rad)", r:1, c:2, leg:"right", ylx:1099},
  {title:"(c) root_pos_rel x (forward, rel)  k=9 (farthest)  MAE=0.0818m", gt:rx_gt, pred:rx_pred, color:PURPLE, ydom:[-0.185,1.547], yticks:[0,0.25,0.5,0.75,1.0,1.25,1.5], fmt:".2f", ylabel:"displacement (m)", r:2, c:0, leg:"right", ylx:17.3},
  {title:"(c) root_pos_rel y (lateral, rel)  k=9 (farthest)  MAE=0.0718m", gt:ry_gt, pred:ry_pred, color:PURPLE, ydom:[-0.57,0.365], yticks:[-0.4,-0.2,0,0.2], fmt:".1f", ylabel:"displacement (m)", r:2, c:1, leg:"right", ylx:550.7},
  {title:"(c) root_pos_rel z (vertical, rel)  k=9 (farthest)  MAE=0.0654m", gt:rz_gt, pred:rz_pred, color:PURPLE, ydom:[-0.1495,0.113], yticks:[-0.1,-0.05,0,0.05,0.1], fmt:".2f", ylabel:"displacement (m)", r:2, c:2, leg:"right", ylx:1076}
];

const LW = 72, LH = 42;
function legend(x, y, color) {
  const d = document.createElement("div"); d.className = "lg";
  d.style.left = x + "px"; d.style.top = y + "px"; d.style.width = LW + "px"; d.style.height = LH + "px";
  d.innerHTML = `<svg width="${LW}" height="${LH}" style="position:absolute;left:-1px;top:-1px;font-family:'DejaVu Sans';font-size:11.8px">
    <line x1="5" x2="32" y1="10.5" y2="10.5" stroke="black" stroke-width="2"/>
    <text x="41" y="15">GT</text>
    <line x1="5" x2="32" y1="29.5" y2="29.5" stroke="${color}" stroke-width="1.5" stroke-dasharray="6,3"/>
    <text x="41" y="34">pred</text></svg>`;
  fig.appendChild(d);
}

for (const p of panels) {
  const left = colLeft[p.c], top = rowTop[p.r];
  const ml = 80, mr = 10, mt = 10, mb = 40;
  const svg = Plot.plot({
    width: colW + ml + mr, height: rowH + mt + mb,
    marginLeft: ml, marginRight: mr, marginTop: mt, marginBottom: mb,
    style: {fontFamily: FONT, fontSize: TICK_FS, background: "transparent", color: "black"},
    x: {domain: [-24.25, 509.25]},
    y: {domain: p.ydom},
    marks: [
      Plot.gridX({ticks: frameTicks, ...GRID}),
      Plot.gridY({ticks: p.yticks, ...GRID}),
      Plot.line(rows(p.gt), {x: "t", y: "v", stroke: "black", strokeWidth: 2, curve: "monotone-x"}),
      Plot.line(rows(p.pred), {x: "t", y: "v", stroke: p.color, strokeWidth: 1.5, strokeDasharray: "6,3"}),
      Plot.frame({stroke: "black", strokeWidth: 1.2}),
      Plot.axisX({ticks: frameTicks, tickFormat: d => String(d), tickSize: 4.9, tickPadding: 4, label: null}),
      Plot.axisY({ticks: p.yticks, tickFormat: d3.format(p.fmt), tickSize: 4.9, tickPadding: 4.9, label: null})
    ]
  });
  place(svg, left - ml, top - mt);
  addText(p.title, left + colW / 2, top - 14.5, 14.7);
  addText("frame t", left + colW / 2, top + rowH + 37, 14.3);
  addText(p.ylabel, p.ylx, top + rowH / 2, 14, "yl");
  const lx = p.leg === "right" ? left + colW - 6 - LW : left + 5.4;
  legend(lx, top + 5.7, p.color);
}
</script></body></html>
